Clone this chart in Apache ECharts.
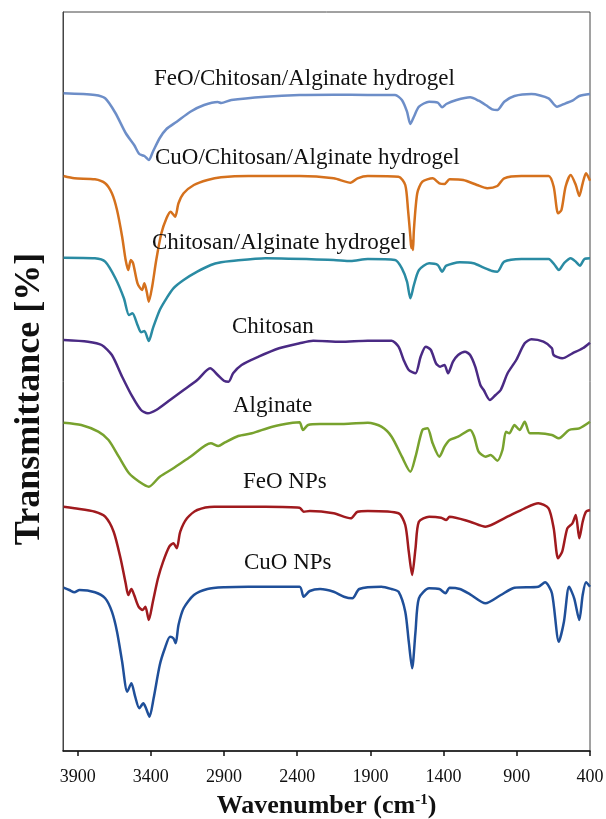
<!DOCTYPE html>
<html>
<head>
<meta charset="utf-8">
<script src="https://cdn.jsdelivr.net/npm/echarts@6/dist/echarts.min.js"></script>
<style>html,body{margin:0;padding:0;background:#fff}#c{width:606px;height:819px}</style>
</head>
<body>
<div id="c"></div>
<script>
// Wavenumber (cm-1) vs transmittance (arbitrary offset units)
const seriesNames = ["FeO/Chitosan/Alginate hydrogel","CuO/Chitosan/Alginate hydrogel","Chitosan/Alginate hydrogel","Chitosan","Alginate","FeO NPs","CuO NPs"];
const xTicks = [3900,3400,2900,2400,1900,1400,900,400];

const feoHydrogel = [[3996,657.7],[3782,656],[3712,652.7],[3642,638],[3572,618],[3514,606],[3479,597],[3444,595],[3414,591],[3386,599.3],[3339,613],[3293,622],[3223,629.3],[3130,639.3],[3036,646],[2943,649],[2920,648],[2850,651],[2617,654.3],[2384,656],[2151,656.3],[1918,656],[1732,656],[1685,651],[1650,639.3],[1627,627],[1603,634.3],[1568,644.3],[1499,649.3],[1440,648.3],[1410,643.7],[1382,647],[1312,651],[1219,653.7],[1161,650.3],[1102,645],[1068,641.7],[1033,641],[986,649.3],[916,655],[800,657],[683,652.7],[625,644.3],[567,647.7],[520,650.3],[473,655],[400,657]];

const cuoHydrogel = [[3996,575],[3922,572.7],[3782,571.7],[3712,567.7],[3666,557.7],[3631,541],[3596,514.3],[3572,491],[3554,481],[3537,491],[3521,487.7],[3491,467.7],[3460,461],[3444,467.7],[3428,459.3],[3414,449.3],[3391,464.3],[3363,491],[3328,517.7],[3293,532.7],[3265,539.3],[3234,534.3],[3211,547.7],[3176,557.7],[3106,566],[3013,571],[2920,573.7],[2734,575],[2384,575],[2151,572.7],[2035,568.3],[1988,572.7],[1918,575],[1708,574.3],[1662,566],[1643,541],[1627,514.3],[1621,503],[1615,510],[1609,501],[1603,521],[1580,557.7],[1545,569.3],[1475,572.7],[1429,567.7],[1394,567],[1359,571.7],[1266,571],[1172,566],[1102,562.7],[1033,565],[986,572.7],[869,575],[683,575],[648,564.3],[618,537.7],[595,541],[567,564.3],[532,576],[497,566],[473,555],[450,567.7],[427,577.7],[400,570.3]];

const chitAlg = [[3996,493.3],[3782,492.7],[3712,489.3],[3642,472.7],[3584,452.7],[3549,436],[3526,437.7],[3491,426],[3467,418.7],[3444,420],[3414,410],[3386,422.7],[3339,441],[3293,452.7],[3246,462.7],[3176,471],[3083,479.3],[2990,486],[2920,488.7],[2850,490],[2617,492.7],[2151,491],[2035,490],[1918,492],[1732,491],[1685,482.7],[1650,469.3],[1627,452.7],[1603,466],[1568,481],[1499,487.7],[1440,486],[1410,479.3],[1382,485.3],[1289,488.7],[1196,487.7],[1126,483.3],[1068,480],[1033,479.3],[986,489.3],[869,492],[683,492],[641,486],[613,481],[578,487.7],[532,492.7],[497,489.3],[469,485.3],[438,492],[400,492.7]];

const chitosan = [[3996,411],[3829,409.3],[3736,406],[3666,396],[3596,374.3],[3526,354.3],[3467,341],[3421,337.7],[3363,341],[3269,351],[3176,361],[3083,371],[2995,382.7],[2943,376],[2901,370.3],[2869,369.3],[2838,377.7],[2780,386],[2664,394.3],[2524,402.7],[2384,407.7],[2291,410.3],[2104,409.3],[1918,410.3],[1755,410.3],[1708,404.3],[1673,391],[1638,381],[1592,377.7],[1557,394.3],[1522,404.3],[1487,401],[1452,387.7],[1424,384.3],[1394,386],[1370,377.7],[1336,389.3],[1301,396],[1254,399.3],[1219,396],[1184,384.3],[1149,366],[1126,361],[1084,351],[1045,356],[1010,361],[963,377.7],[904,391],[846,407.7],[800,411.7],[718,409.3],[660,402.7],[649,396],[590,392.7],[520,397.7],[450,402.7],[400,408.3]];

const alginate = [[3996,328.3],[3875,326],[3759,319.3],[3689,311],[3619,294.3],[3549,277.7],[3479,269.3],[3414,264.3],[3339,274.3],[3246,282.7],[3130,294.3],[2990,307.7],[2939,305],[2897,308.3],[2803,315],[2710,317.7],[2570,324.3],[2431,328.3],[2384,328.7],[2361,321],[2326,326],[2244,327],[2081,327],[1918,328.3],[1825,324.3],[1755,314.3],[1685,294.3],[1627,279.3],[1592,294.3],[1545,321],[1510,322.7],[1475,307.7],[1429,294.3],[1394,304.3],[1359,311],[1301,314.3],[1219,321],[1191,314.3],[1161,299.3],[1114,294.3],[1079,296],[1033,290.3],[998,301],[974,319.3],[951,317.7],[916,326],[881,321],[846,329.3],[811,317.7],[753,317.7],[660,316],[613,312.7],[543,321],[473,322.7],[400,329.3]];

const feoNP = [[3996,244.3],[3922,242.7],[3782,239.3],[3712,234.3],[3654,219.3],[3607,192.7],[3572,167.7],[3554,156],[3533,162],[3514,156],[3484,144.3],[3456,141],[3437,144.3],[3414,131],[3386,149.3],[3351,172.7],[3316,189.3],[3274,204.3],[3246,207.7],[3223,202.7],[3199,219.3],[3153,232.7],[3083,241],[2967,244.3],[2617,244.3],[2384,243.3],[2356,239.3],[2314,240],[2151,237.7],[2035,232.7],[1988,239.3],[1918,240],[1708,237.7],[1662,226],[1638,199.3],[1615,176],[1592,202.7],[1569,229.3],[1499,234.3],[1417,233.3],[1382,231],[1359,234.3],[1219,229.3],[1114,224.3],[986,232.7],[846,242.7],[753,247.7],[683,242.7],[648,222.7],[618,192.7],[590,199.3],[555,222.7],[520,227.7],[497,236],[473,212.7],[450,229.3],[427,239.3],[400,241]];

const cuoNP = [[3996,163.3],[3957,161],[3922,158.7],[3887,161],[3782,158.7],[3712,152.7],[3666,139.3],[3631,119.3],[3596,89.3],[3561,59.3],[3533,67.7],[3507,54.3],[3479,42.7],[3451,47.7],[3433,42.7],[3409,34.3],[3381,52.7],[3339,86],[3304,102.7],[3269,114.3],[3246,112.7],[3230,107.7],[3211,126],[3176,142.7],[3106,156],[3013,162],[2897,163.7],[2734,164.3],[2384,164.3],[2356,154.3],[2314,160],[2244,162],[2151,159.3],[2081,154.3],[2023,152.7],[1976,162],[1825,164.3],[1755,162],[1708,159.3],[1662,139.3],[1638,109.3],[1615,82.7],[1592,119.3],[1569,152.7],[1499,162.7],[1429,162],[1387,157.7],[1359,163.3],[1289,162],[1219,156.7],[1114,147.7],[1009,156],[916,163.3],[753,164.3],[707,168.7],[660,157.7],[613,109.3],[578,129.3],[543,164.3],[508,152.7],[473,131],[450,156],[427,168.7],[400,164.3]];

const allData = [feoHydrogel, cuoHydrogel, chitAlg, chitosan, alginate, feoNP, cuoNP];
const colors = ['#6d8ec8','#d5711d','#2a8ba3','#4a2a84','#78a22e','#a01a1e','#1f4f99'];

// annotation label placement (pixels)
const labelPos = [[154,79],[155,158],[152,243],[232,327],[233,406],[243,482],[244,563]];

const chart = echarts.init(document.getElementById('c'), null, {renderer:'canvas'});
const serif = '"Liberation Serif","Times New Roman",serif';

chart.setOption({
  animation: false,
  backgroundColor: '#fff',
  grid: {left: 63, right: 16, top: 12, bottom: 68, show: true, borderColor: '#444', borderWidth: 1,
    containLabel: false, outerBoundsMode: 'none'},
  xAxis: {
    type: 'value', min: 400, max: 4000, interval: 500, inverse: true,
    axisLine: {show: true, lineStyle: {color: '#111', width: 1.5}},
    axisTick: {show: true, length: 5, lineStyle: {color: '#111', width: 1.5}},
    splitLine: {show: false},
    axisLabel: {fontFamily: serif, fontSize: 18, color: '#111', margin: 17, showMaxLabel: false,
      formatter: v => xTicks.indexOf(v) >= 0 ? String(v) : ''},
    name: '{a|Wavenumber (cm}{s|-1}{a|)}',
    nameLocation: 'middle', nameGap: 42,
    nameTextStyle: {rich: {
      a: {fontFamily: serif, fontSize: 26, fontWeight: 'bold', color: '#111'},
      s: {fontFamily: serif, fontSize: 15, fontWeight: 'bold', color: '#111', verticalAlign: 'top', padding: [0,0,12,0]}
    }}
  },
  yAxis: {
    type: 'value', min: 0, max: 739,
    axisLine: {show: true, lineStyle: {color: '#444', width: 1}},
    axisTick: {show: false}, axisLabel: {show: false}, splitLine: {show: false}
  },
  series: allData.map((d, i) => ({
    name: seriesNames[i], type: 'line', data: d, showSymbol: false,
    smooth: 0.25, lineStyle: {color: colors[i], width: 2.5}, z: 2 + i
  })),
  graphic: seriesNames.map((n, i) => ({
    type: 'text', x: labelPos[i][0], y: labelPos[i][1], z: 100,
    style: {text: n, font: '23px ' + serif, fill: '#111', verticalAlign: 'middle'}
  })).concat([{
    type: 'text', x: 30, y: 399, rotation: Math.PI / 2, z: 100,
    style: {text: 'Transmittance [%]', font: 'bold 36px ' + serif, fill: '#111', align: 'center', verticalAlign: 'middle'}
  }])
});
</script>
</body>
</html>
